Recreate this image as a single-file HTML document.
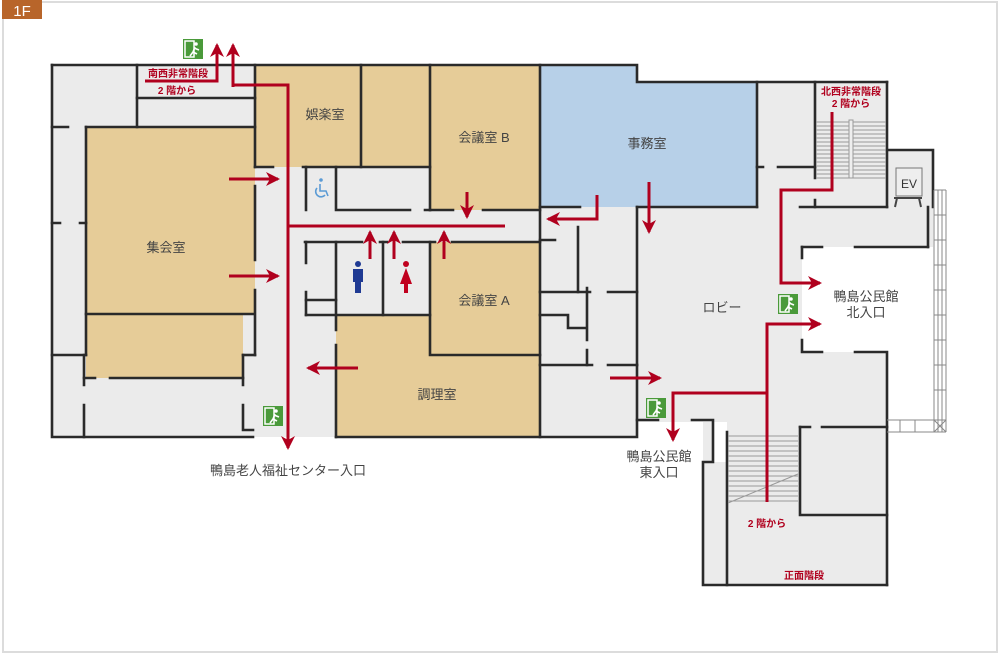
<!DOCTYPE html>
<html><head><meta charset="utf-8"><style>
html,body{margin:0;padding:0;background:#fff;}
svg{display:block;}
text{font-family:"Liberation Sans","Noto Sans CJK JP",sans-serif;}
</style></head><body>
<svg width="1000" height="654" viewBox="0 0 1000 654" xmlns="http://www.w3.org/2000/svg">
<defs>
<marker id="ah" markerUnits="userSpaceOnUse" markerWidth="16" markerHeight="16" refX="12" refY="8" orient="auto">
<path d="M0,1 L14,8 L0,15 L4,8 Z" fill="#b0001e"/>
</marker>
<g id="exit">
<rect x="0" y="0" width="20" height="20" fill="#4a9a3a"/>
<rect x="2" y="2" width="9" height="16" fill="none" stroke="#fff" stroke-width="1.5"/>
<circle cx="13" cy="5" r="1.8" fill="#fff"/>
<path d="M12,8 L10,13 L14,15 M11,9 L16,11 M10,13 L7,17" stroke="#fff" stroke-width="1.6" fill="none"/>
</g>
</defs>
<!-- frame -->
<rect x="3" y="2" width="994" height="650" fill="#fff" stroke="#dcdcdc" stroke-width="2"/>
<rect x="2" y="0" width="40" height="19" fill="#b8652a"/>
<text x="22" y="16" font-size="15" fill="#fff" text-anchor="middle">1F</text>

<!-- gray footprint -->
<g fill="#ebebeb">
<rect x="52" y="65" width="488" height="372"/>
<rect x="540" y="65" width="97" height="372"/>
<rect x="637" y="82" width="250" height="340"/>
<rect x="887" y="150" width="46" height="97"/>
<rect x="703" y="422" width="184" height="163"/>
<rect x="637" y="420" width="76" height="2"/>
</g>
<rect x="802" y="247" width="86" height="105" fill="#fff"/>
<rect x="713" y="422" width="14" height="40" fill="#fff"/>

<!-- tan rooms -->
<g fill="#e6cc98">
<rect x="86" y="127" width="169" height="187"/>
<rect x="86" y="314" width="157" height="64"/>
<rect x="255" y="65" width="175" height="102"/>
<rect x="430" y="65" width="110" height="145"/>
<rect x="430" y="242" width="110" height="113"/>
<rect x="336" y="315" width="204" height="122"/>
</g>
<!-- blue office -->
<path d="M540,65 H637 V82 H757 V207 H540 Z" fill="#b7d0e8"/>

<!-- walls -->
<g stroke="#2a2a2a" stroke-width="2.6" fill="none" stroke-linecap="square">
<path d="M52,65 H637 V82 H887"/>
<path d="M52,65 V437 H253"/>
<path d="M336,437 H637 V365"/>
<path d="M137,65 V127"/>
<path d="M137,98 H255"/>
<path d="M52,127 H68 M86,127 H255"/>
<path d="M86,127 V355"/>
<path d="M52,223 H60 M80,223 H86"/>
<path d="M52,355 H86"/>
<path d="M86,314 H253"/>
<path d="M84,355 V385 M84,405 V437"/>
<path d="M84,378 H95 M110,378 H243"/>
<path d="M243,355 V385 M243,405 V430 H253"/>
<path d="M243,355 H255"/>
<path d="M255,65 V167 M255,186 V260 M255,290 V355"/>
<path d="M255,167 H273 M303,167 H430"/>
<path d="M361,65 V167"/>
<path d="M430,65 V210"/>
<path d="M430,210 H453 M483,210 H540"/>
<path d="M306,167 V210 M336,167 V210 H410 M425,210 H430"/>
<path d="M305,242 H362 M380,242 H387 M403,242 H435 M452,242 H540"/>
<path d="M306,242 V263 M306,292 V315"/>
<path d="M306,300 H336 M306,315 H430"/>
<path d="M336,242 V330 M336,345 V437"/>
<path d="M383,242 V315"/>
<path d="M430,242 V355 H540"/>
<path d="M540,65 V437"/>
<path d="M540,207 H580 M637,207 H757"/>
<path d="M578,227 V292"/>
<path d="M637,207 V365"/>
<path d="M540,240 H555"/>
<path d="M540,292 H590 M608,292 H637"/>
<path d="M540,315 H568 V328 H585"/>
<path d="M587,288 V340 M587,350 V365"/>
<path d="M540,365 H592 M608,365 H637"/>
<path d="M757,82 V207"/>
<path d="M757,167 H763 M778,167 H815"/>
<path d="M815,82 V178 M815,200 V207"/>
<path d="M800,207 H887"/>
<path d="M887,82 V207"/>
<path d="M887,150 H933 V207 M928,207 V247"/>
<path d="M802,247 H822 M855,247 H928"/>
<path d="M802,247 V258 M802,340 V352 H822 M855,352 H887 V585"/>
<path d="M637,420 H658 M692,420 H713 V462 H703 V585 H887"/>
<path d="M727,432 V585"/>
<path d="M800,427 H810 M822,427 H887"/>
<path d="M800,427 V515 H887"/>
</g>
<!-- stairs -->
<g stroke="#999" stroke-width="1">
<path d="M816,122H886M816,126H886M816,130H886M816,134H886M816,138H886M816,142H886M816,146H886M816,150H886M816,154H886M816,158H886M816,162H886M816,166H886M816,170H886M816,174H886M816,178H886"/>
<path d="M728,436H798M728,441H798M728,446H798M728,451H798M728,456H798M728,461H798M728,466H798M728,471H798M728,476H798M728,481H798M728,486H798M728,491H798M728,496H798M728,501H798"/>
<path d="M728,503 L798,474"/>
</g>
<rect x="849" y="120" width="4" height="58" fill="#eee" stroke="#999" stroke-width="1"/>
<!-- EV -->
<rect x="896" y="168" width="26" height="28" fill="#eee" stroke="#777" stroke-width="1"/>
<path d="M894,198 H922 M897,198 L895,207 M919,198 L921,207" stroke="#444" stroke-width="2"/>
<text x="909" y="188" font-size="12" fill="#333" text-anchor="middle">EV</text>
<!-- balcony -->
<g stroke="#888" stroke-width="1" fill="none">
<path d="M934,190V432M938,190V432M942,190V432M946,190V432"/>
<path d="M934,190H946M934,215H946M934,240H946M934,265H946M934,290H946M934,315H946M934,340H946M934,365H946M934,390H946M934,420H946"/>
<path d="M887,420H946M887,432H946M900,420V432M915,420V432M934,420L946,432M946,420L934,432"/>
</g>

<!-- red arrows -->
<g stroke="#b0001e" stroke-width="3" fill="none">
<path d="M233,87 V85 H288 V448" marker-end="url(#ah)"/>
<path d="M233,87 V45" marker-end="url(#ah)"/>
<path d="M145,81 H217 V45" marker-end="url(#ah)"/>
<path d="M288,226 H505"/>
<path d="M229,179 H278" marker-end="url(#ah)"/>
<path d="M229,276 H278" marker-end="url(#ah)"/>
<path d="M467,192 V217" marker-end="url(#ah)"/>
<path d="M370,259 V232" marker-end="url(#ah)"/>
<path d="M394,259 V232" marker-end="url(#ah)"/>
<path d="M444,259 V232" marker-end="url(#ah)"/>
<path d="M358,368 H308" marker-end="url(#ah)"/>
<path d="M597,195 V219 H548" marker-end="url(#ah)"/>
<path d="M649,182 V232" marker-end="url(#ah)"/>
<path d="M832,112 V190 H781 V283 H820" marker-end="url(#ah)"/>
<path d="M767,502 V324 H820" marker-end="url(#ah)"/>
<path d="M767,393 H673 V440" marker-end="url(#ah)"/>
<path d="M610,378 H660" marker-end="url(#ah)"/>
</g>

<!-- exit signs -->
<use href="#exit" x="183" y="39"/>
<use href="#exit" x="263" y="406"/>
<use href="#exit" x="646" y="398"/>
<use href="#exit" x="778" y="294"/>
<!-- WC icons -->
<circle cx="358" cy="264" r="3" fill="#1f3a93"/>
<path d="M353,269 H363 V282 H361 V293 H355 V282 H353 Z" fill="#1f3a93"/>
<circle cx="406" cy="264" r="3" fill="#c0001e"/>
<path d="M406,268 L400,284 H404 V293 H408 V284 H412 Z" fill="#c0001e"/>
<!-- wheelchair -->
<g stroke="#5b9bd5" stroke-width="1.6" fill="none">
<circle cx="321" cy="180" r="1.8" fill="#5b9bd5" stroke="none"/>
<path d="M320,184 V191 H326 L328,196"/>
<path d="M317,188 A5,5 0 1 0 325,195"/>
</g>

<!-- labels -->
<g font-size="13" fill="#444" text-anchor="middle">
<text x="325" y="119">娯楽室</text>
<text x="484" y="142">会議室 B</text>
<text x="166" y="252">集会室</text>
<text x="484" y="305">会議室 A</text>
<text x="437" y="399">調理室</text>
<text x="647" y="148">事務室</text>
<text x="722" y="312">ロビー</text>
<text x="866" y="301">鴨島公民館</text>
<text x="866" y="317">北入口</text>
<text x="659" y="461">鴨島公民館</text>
<text x="659" y="477">東入口</text>
<text x="288" y="475">鴨島老人福祉センター入口</text>
</g>
<g font-size="10" font-weight="bold" fill="#b0001e" text-anchor="middle">
<text x="178" y="77">南西非常階段</text>
<text x="177" y="94">2 階から</text>
<text x="851" y="95">北西非常階段</text>
<text x="851" y="107">2 階から</text>
<text x="767" y="527">2 階から</text>
<text x="804" y="579">正面階段</text>
</g>
</svg>
</body></html>
